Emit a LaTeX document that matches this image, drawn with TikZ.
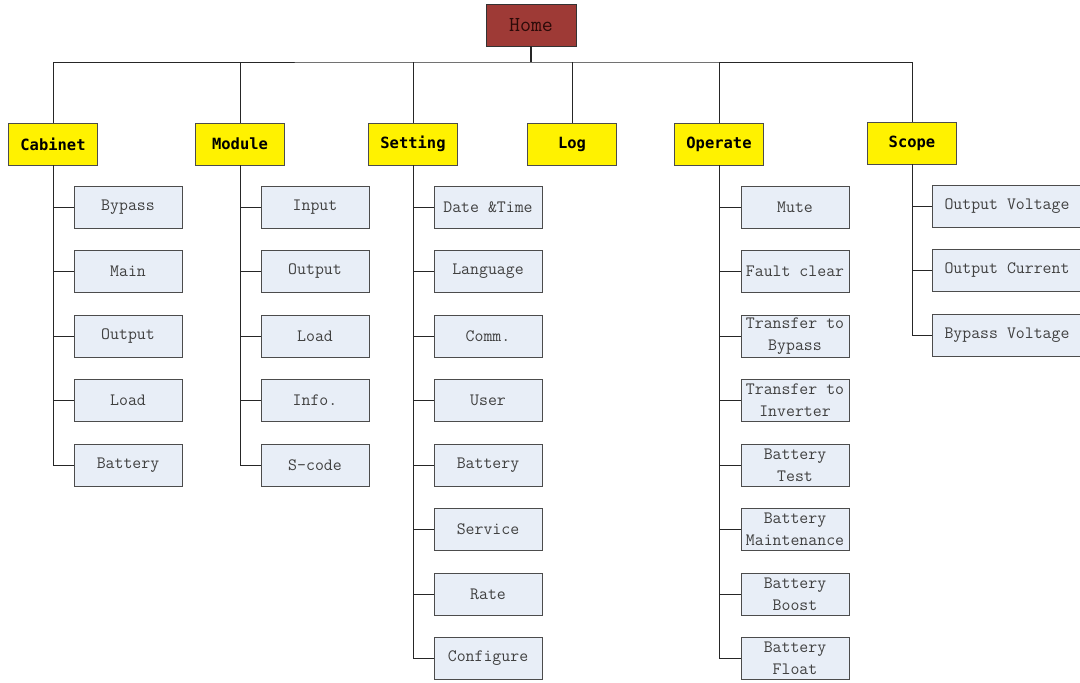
\documentclass[tikz,border=0pt]{standalone}
\usepackage{fontspec}
\newfontfamily\headfont{DejaVu Sans Mono}
\usepackage{xcolor}
\usetikzlibrary{positioning}

\definecolor{homered}{RGB}{158,58,54}
\definecolor{hometext}{RGB}{43,10,8}
\definecolor{itemblue}{RGB}{232,238,247}

\begin{document}
\begin{tikzpicture}[x=0.75pt, y=-0.75pt,
            home/.style={draw=black!80, fill=homered, minimum width=67.5pt, minimum height=31.5pt, text=hometext, font=\ttfamily\fontsize{16}{19}\selectfont},
            group/.style={draw=black!70, fill=yellow, minimum width=66.75pt, minimum height=31.5pt, font=\headfont\bfseries\fontsize{11.6}{14}\selectfont},
            item/.style={draw=black!70, fill=itemblue, minimum width=81pt, minimum height=31.5pt, inner sep=1pt, align=center, text=black!75, font=\ttfamily\fontsize{13}{16.5}\selectfont},
            wide/.style={item, minimum width=112.5pt},
            link/.style={draw=black!85, line width=0.6pt}
        ]
        \useasboundingbox (0,0) rectangle (1080,682);
        \clip (0,0) rectangle (1080,682);

        % Knoten
        \node[home] (home) at (531,25) {Home};
        \coordinate (bus) at (531,62);

        \node[group] (cab) at (53,144) {Cabinet};
        \node[group] (mod) at (240,144) {Module};
        \node[group] (set) at (413,144) {Setting};
        \node[group] (log) at (572,144) {Log};
        \node[group] (op) at (719,144) {Operate};
        \node[group] (scope) at (912,143) {Scope};

        \foreach \t [count=\i] in {Bypass, Main, Output, Load, Battery}
            \node[item] (cab-\i) at (128,142.5+64.5*\i) {\t};
        \foreach \t [count=\i] in {Input, Output, Load, Info., S-code}
            \node[item] (mod-\i) at (315,142.5+64.5*\i) {\t};
        \foreach \t [count=\i] in {Date \&Time, Language, Comm., User, Battery, Service, Rate, Configure}
            \node[item] (set-\i) at (488,142.5+64.5*\i) {\t};
        \foreach \t [count=\i] in {Mute, Fault clear, {Transfer to\\Bypass}, {Transfer to\\Inverter}, {Battery\\Test}, {Battery\\Maintenance}, {Battery\\Boost}, {Battery\\Float}}
            \node[item] (op-\i) at (795,142.5+64.5*\i) {\t};
        \foreach \t [count=\i] in {Output Voltage, Output Current, Bypass Voltage}
            \node[wide] (scope-\i) at (1007,141.5+64.5*\i) {\t};

        % Kanten
        \draw[link, line width=1.3pt] (home.south) -- (bus);
        \draw[link] (cab.north) |- (bus) -| (scope.north);
        \foreach \g in {mod, set, log, op}
            \draw[link] (\g.north) -- (\g.north |- bus);

        \foreach \i in {1,...,5} {
            \draw[link] (cab.south) |- (cab-\i.west);
            \draw[link] (mod.south) |- (mod-\i.west);
        }
        \foreach \i in {1,...,8} {
            \draw[link] (set.south) |- (set-\i.west);
            \draw[link] (op.south) |- (op-\i.west);
        }
        \foreach \i in {1,...,3}
            \draw[link] (scope.south) |- (scope-\i.west);

    \end{tikzpicture}
\end{document}
